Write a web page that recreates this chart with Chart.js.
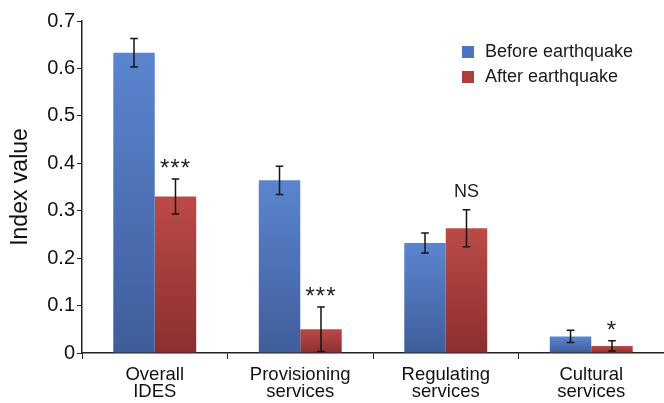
<!DOCTYPE html>
<html><head><meta charset="utf-8">
<script src="https://cdn.jsdelivr.net/npm/chart.js@4/dist/chart.umd.min.js"></script>
<style>html,body{margin:0;padding:0;background:#fff}#wrap{width:664px;height:403px}</style>
</head><body><div id="wrap"><canvas id="c" width="664" height="403"></canvas></div>
<script>
const categories = [["Overall","IDES"],["Provisioning","services"],["Regulating","services"],["Cultural","services"]];
const seriesNames = ["Before earthquake","After earthquake"];
const beforeValues = [0.633, 0.364, 0.232, 0.035];
const afterValues = [0.330, 0.050, 0.263, 0.015];
const beforeErrors = [0.030, 0.030, 0.021, 0.013];
const afterErrors = [0.037, 0.047, 0.039, 0.011];
const significance = ["***", "***", "NS", "*"];
const yMin = 0, yMax = 0.7, yStep = 0.1;

const FONT = "'Liberation Sans', Arial, Helvetica, sans-serif";
const palette = [
  {top: '#5b85d0', bottom: '#3f5d9b', legend: '#4f74bf'},
  {top: '#bc4a47', bottom: '#8a2f2f', legend: '#ad3f3d'}
];

function barGradient(ctx, di) {
  const chart = ctx.chart;
  const area = chart.chartArea;
  if (!area || ctx.type !== 'data') return palette[di].legend;
  const ys = chart.scales.y;
  const yTop = ys.getPixelForValue(ctx.parsed.y);
  const yBot = ys.getPixelForValue(0);
  if (!isFinite(yTop) || yBot - yTop < 1) return palette[di].legend;
  const g = chart.ctx.createLinearGradient(0, yTop, 0, yBot);
  g.addColorStop(0, palette[di].top);
  g.addColorStop(1, palette[di].bottom);
  return g;
}

const errorSets = [beforeErrors, afterErrors];

const extrasPlugin = {
  id: 'extras',
  afterDatasetsDraw(chart) {
    const c = chart.ctx;
    const ys = chart.scales.y;
    c.save();
    c.strokeStyle = '#151515';
    c.lineWidth = 1.5;
    chart.data.datasets.forEach((ds, di) => {
      const meta = chart.getDatasetMeta(di);
      meta.data.forEach((bar, j) => {
        const v = ds.data[j], e = errorSets[di][j];
        const x = bar.x;
        const yHi = ys.getPixelForValue(v + e);
        const yLo = ys.getPixelForValue(Math.max(0, v - e));
        const cw = 3.8;
        c.beginPath();
        c.moveTo(x, yHi); c.lineTo(x, yLo);
        c.moveTo(x - cw, yHi); c.lineTo(x + cw, yHi);
        c.moveTo(x - cw, yLo); c.lineTo(x + cw, yLo);
        c.stroke();
        if (di === 1) {
          const s = significance[j];
          c.fillStyle = '#222';
          c.textAlign = 'center';
          c.textBaseline = 'alphabetic';
          if (s.indexOf('*') >= 0) {
            c.font = '24px ' + FONT;
            if ('letterSpacing' in c) c.letterSpacing = '1px';
            c.fillText(s, x, yHi - 3);
            if ('letterSpacing' in c) c.letterSpacing = '0px';
          } else {
            c.font = '18px ' + FONT;
            c.fillText(s, x, yHi - 13);
          }
        }
      });
    });
    // legend
    c.font = '18px ' + FONT;
    c.textAlign = 'left';
    c.textBaseline = 'middle';
    const lx = 462, ly = [52, 77];
    chart.data.datasets.forEach((ds, di) => {
      c.fillStyle = palette[di].legend;
      c.fillRect(lx, ly[di] - 6, 12, 12);
      c.fillStyle = '#1a1a1a';
      c.fillText(ds.label, lx + 23, ly[di]);
    });
    c.restore();
  }
};

new Chart(document.getElementById('c'), {
  type: 'bar',
  data: {
    labels: categories,
    datasets: [
      {label: seriesNames[0], data: beforeValues, backgroundColor: ctx => barGradient(ctx, 0)},
      {label: seriesNames[1], data: afterValues, backgroundColor: ctx => barGradient(ctx, 1)}
    ]
  },
  options: {
    responsive: false,
    animation: false,
    devicePixelRatio: 1,
    layout: {padding: {top: 21, left: 0, right: 0, bottom: 0}},
    datasets: {bar: {categoryPercentage: 0.57, barPercentage: 1.0, borderWidth: 0}},
    plugins: {legend: {display: false}, tooltip: {enabled: false}},
    scales: {
      x: {
        grid: {display: true, drawOnChartArea: false, drawTicks: true, tickLength: 6, color: '#222', offset: true},
        border: {color: '#222', width: 1.5},
        ticks: {color: '#111', font: {family: FONT, size: 18.5, lineHeight: 0.95}, padding: 7, maxRotation: 0, autoSkip: false},
        afterFit: s => { s.height = 50; }
      },
      y: {
        min: yMin, max: yMax,
        grid: {display: true, drawOnChartArea: false, drawTicks: true, tickLength: 5, color: '#222'},
        border: {color: '#222', width: 1.5},
        ticks: {stepSize: yStep, color: '#111', font: {family: FONT, size: 20}, padding: 2,
          callback: v => (Math.abs(v) < 1e-9 ? '0' : v.toFixed(1))},
        title: {display: true, text: 'Index value', color: '#111', font: {family: FONT, size: 23}, padding: {top: 7, bottom: 0}},
        afterFit: s => { s.width = 82; }
      }
    }
  },
  plugins: [extrasPlugin]
});
</script>
</body></html>
